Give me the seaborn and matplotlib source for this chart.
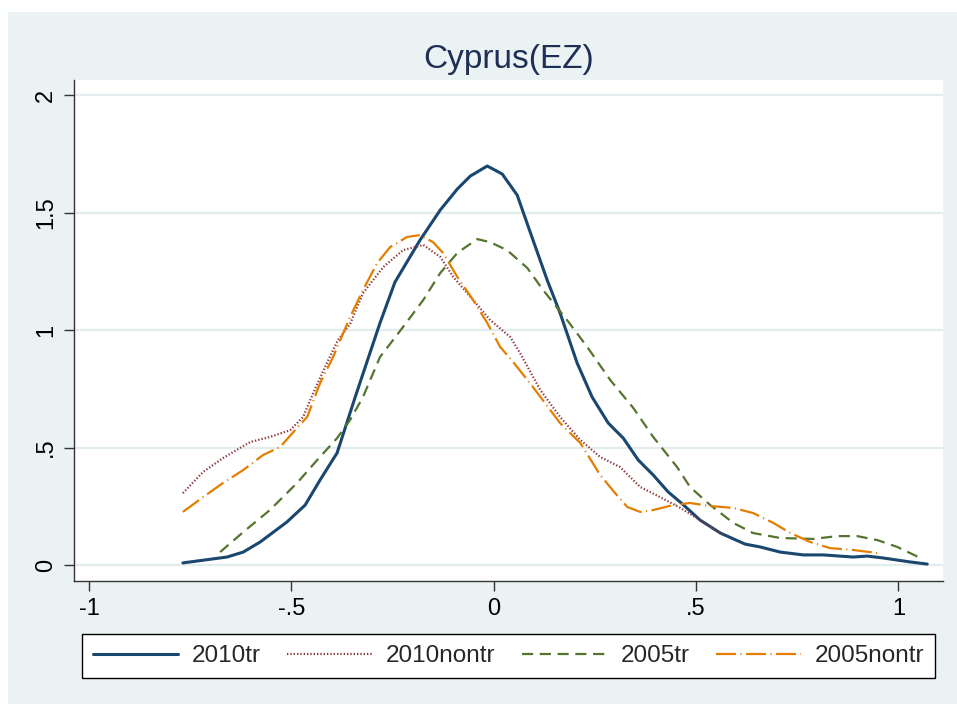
import matplotlib
matplotlib.use('Agg')
import matplotlib.pyplot as plt
from matplotlib.patches import Rectangle
import pandas as pd
import seaborn as sns

# kernel density estimates
x_2010tr = [-0.768, -0.659, -0.619, -0.577, -0.511, -0.466, -0.429, -0.387, -0.355, -0.343,
            -0.281, -0.244, -0.182, -0.132, -0.090, -0.058, -0.016, 0.021, 0.058, 0.097,
            0.132, 0.164, 0.206, 0.243, 0.283, 0.320, 0.357, 0.394, 0.431, 0.466,
            0.510, 0.560, 0.621, 0.658, 0.708, 0.765, 0.814, 0.888, 0.923, 0.962,
            1.029, 1.071]
y_2010tr = [0.009, 0.034, 0.055, 0.098, 0.183, 0.255, 0.362, 0.477, 0.647, 0.711,
            1.030, 1.204, 1.383, 1.511, 1.600, 1.655, 1.698, 1.664, 1.574, 1.383,
            1.213, 1.072, 0.860, 0.715, 0.604, 0.540, 0.447, 0.383, 0.311, 0.260,
            0.191, 0.136, 0.089, 0.077, 0.055, 0.043, 0.043, 0.034, 0.038, 0.030,
            0.013, 0.004]

x_2010nontr = [-0.768, -0.718, -0.669, -0.602, -0.553, -0.503, -0.471, -0.446, -0.412, -0.385,
               -0.355, -0.323, -0.273, -0.224, -0.174, -0.132, -0.100, -0.051, -0.009, 0.041,
               0.065, 0.115, 0.164, 0.214, 0.263, 0.312, 0.362, 0.411, 0.461, 0.510,
               0.567]
y_2010nontr = [0.306, 0.396, 0.455, 0.523, 0.545, 0.574, 0.630, 0.732, 0.860, 0.957,
               1.025, 1.157, 1.268, 1.340, 1.362, 1.311, 1.226, 1.128, 1.043, 0.970,
               0.902, 0.745, 0.630, 0.532, 0.460, 0.417, 0.332, 0.289, 0.243, 0.191,
               0.128]

x_2005tr = [-0.676, -0.619, -0.553, -0.486, -0.436, -0.387, -0.355, -0.323, -0.281, -0.224,
            -0.174, -0.132, -0.090, -0.041, -0.009, 0.033, 0.083, 0.122, 0.181, 0.231,
            0.288, 0.345, 0.394, 0.453, 0.485, 0.535, 0.592, 0.641, 0.708, 0.789,
            0.849, 0.898, 0.948, 0.997, 1.054]
y_2005tr = [0.055, 0.140, 0.234, 0.349, 0.447, 0.540, 0.617, 0.715, 0.885, 1.013,
            1.128, 1.243, 1.328, 1.387, 1.374, 1.340, 1.264, 1.170, 1.043, 0.928,
            0.787, 0.668, 0.545, 0.417, 0.332, 0.255, 0.179, 0.136, 0.115, 0.111,
            0.123, 0.123, 0.106, 0.077, 0.030]

x_2005nontr = [-0.768, -0.718, -0.669, -0.619, -0.570, -0.528, -0.486, -0.461, -0.429, -0.397,
               -0.355, -0.323, -0.288, -0.256, -0.214, -0.182, -0.150, -0.125, -0.090, -0.051,
               -0.016, 0.016, 0.048, 0.097, 0.164, 0.214, 0.263, 0.300, 0.330, 0.362,
               0.394, 0.443, 0.485, 0.535, 0.592, 0.641, 0.691, 0.733, 0.782, 0.831,
               0.888, 0.948]
y_2005nontr = [0.226, 0.289, 0.349, 0.404, 0.468, 0.502, 0.583, 0.630, 0.774, 0.885,
               1.055, 1.170, 1.285, 1.353, 1.396, 1.404, 1.374, 1.328, 1.226, 1.128,
               1.030, 0.928, 0.864, 0.757, 0.604, 0.519, 0.383, 0.306, 0.247, 0.226,
               0.234, 0.255, 0.264, 0.251, 0.243, 0.221, 0.179, 0.136, 0.098, 0.072,
               0.064, 0.051]

x_ticks = [-1, -0.5, 0, 0.5, 1]
x_labels = ['-1', '-.5', '0', '.5', '1']
y_ticks = [0, 0.5, 1, 1.5, 2]
y_labels = ['0', '.5', '1', '1.5', '2']

BG = '#EAF2F3'

sns.set_style('white')
plt.rcParams['font.family'] = ['Liberation Sans', 'DejaVu Sans']

fig = plt.figure(figsize=(9.57, 7.04), dpi=100, facecolor='white')
fig.add_artist(Rectangle((8 / 957, 0), 1, (704 - 12) / 704, transform=fig.transFigure,
                         facecolor=BG, edgecolor='none', zorder=-1))
ax = fig.add_axes([74 / 957, 1 - 581 / 704, (943 - 74) / 957, (581 - 80) / 704])
ax.set_facecolor('white')

series = [
    ('2010tr', x_2010tr, y_2010tr, '#1A476F', '-', 2.2),
    ('2010nontr', x_2010nontr, y_2010nontr, '#90353B', (0, (0.6, 0.9)), 1.6),
    ('2005tr', x_2005tr, y_2005tr, '#55752F', (0, (5, 3)), 1.6),
    ('2005nontr', x_2005nontr, y_2005nontr, '#E37E00', (0, (9, 2, 0.5, 2)), 1.6),
]
for name, xs, ys, col, ls, lw in series:
    df = pd.DataFrame({'x': xs, 'y': ys})
    sns.lineplot(data=df, x='x', y='y', ax=ax, color=col, linestyle=ls,
                 linewidth=lw, sort=False, label=name)

ax.set_xlim(-1.037, 1.110)
ax.set_ylim(-0.068, 2.064)
ax.set_xticks(x_ticks)
ax.set_xticklabels(x_labels)
ax.set_yticks(y_ticks)
ax.set_yticklabels(y_labels, rotation=90, va='center')
ax.set_xlabel('')
ax.set_ylabel('')
ax.grid(axis='y', color='#E3EDEF', linewidth=1.6)
ax.grid(axis='x', visible=False)
ax.set_axisbelow(True)

for side in ['top', 'right']:
    ax.spines[side].set_visible(False)
for side in ['left', 'bottom']:
    ax.spines[side].set_color('#333333')
    ax.spines[side].set_linewidth(1.0)
ax.tick_params(axis='both', which='major', direction='out', length=7, width=1.0,
               color='#333333', labelsize=17, labelcolor='black', pad=5,
               left=True, bottom=True)

ax.set_title('Cyprus(EZ)', fontsize=24, color='#1E2E55', pad=8.6)

leg = ax.legend(loc='lower left', bbox_to_anchor=(82 / 957, 1 - 678 / 704, 853 / 957, 45 / 704),
                bbox_transform=fig.transFigure, mode='expand', ncol=4, fontsize=17.5,
                frameon=True, fancybox=False, framealpha=1, edgecolor='black',
                handlelength=3.5, handletextpad=0.55, borderaxespad=0, borderpad=0.45)
leg.get_frame().set_linewidth(1.0)

fig.savefig('out.png', dpi=100, facecolor=fig.get_facecolor())
